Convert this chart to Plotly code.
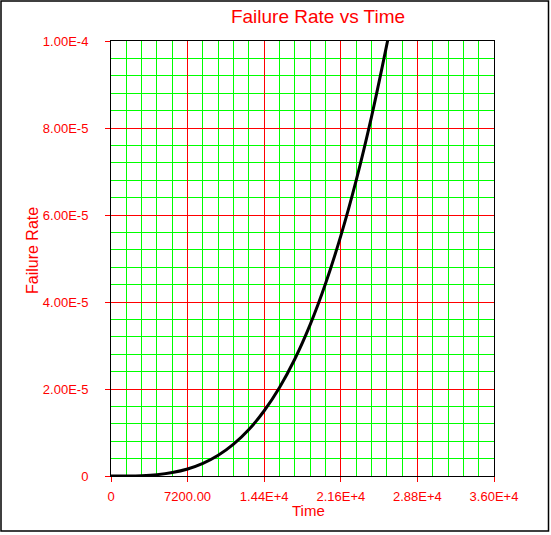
import plotly.graph_objects as go

# Data
time_vals = [0, 1440, 2880, 4320, 5760, 7200, 8640, 10080, 11520, 12960, 14400,
             15840, 17280, 18720, 20160, 21600, 23040, 24480, 25920, 26640]
failure_rate = [0.0, 1.0e-8, 8.5e-8, 3.1e-7, 7.9e-7, 1.61e-6, 2.9e-6, 4.76e-6, 7.31e-6,
                1.067e-5, 1.50e-5, 2.035e-5, 2.69e-5, 3.48e-5, 4.42e-5, 5.52e-5,
                6.79e-5, 8.25e-5, 9.91e-5, 1.08e-4]

x_tickvals = [0, 7200, 14400, 21600, 28800, 36000]
x_ticktext = ["0", "7200.00", "1.44E+4", "2.16E+4", "2.88E+4", "3.60E+4"]
y_tickvals = [0, 2e-5, 4e-5, 6e-5, 8e-5, 1e-4]
y_ticktext = ["0", "2.00E-5", "4.00E-5", "6.00E-5", "8.00E-5", "1.00E-4"]

W, H = 551, 535
L, R, T, B = 111, 57, 41, 59
pw, ph = W - L - R, H - T - B

def px2x(px):
    return (px - L) / pw

def py2y(py):
    return (H - B - py) / ph

RED = "#ff0000"
GREEN = "#00ff00"
FONT = "Liberation Sans, Arial, sans-serif"

fig = go.Figure()
fig.add_trace(go.Scatter(
    x=time_vals, y=failure_rate, mode="lines",
    line=dict(color="black", width=3, shape="spline"),
    showlegend=False, hoverinfo="skip",
))

axis_common = dict(
    showline=True, mirror=True, linecolor="black", linewidth=1,
    showgrid=True, gridcolor=RED, gridwidth=1,
    zeroline=False,
    ticks="outside", ticklen=5, tickcolor=RED, tickwidth=1,
    tickfont=dict(family=FONT, size=13, color=RED),
    tickmode="array",
)

fig.update_xaxes(
    **axis_common,
    range=[0, 36000],
    tickvals=x_tickvals, ticktext=x_ticktext,
    minor=dict(tickmode="linear", tick0=0, dtick=1440, showgrid=True,
               gridcolor=GREEN, gridwidth=1, ticks=""),
    ticklabelstandoff=3,
)
fig.update_yaxes(
    **axis_common,
    range=[0, 1e-4],
    tickvals=y_tickvals, ticktext=y_ticktext,
    minor=dict(tickmode="linear", tick0=0, dtick=4e-6, showgrid=True,
               gridcolor=GREEN, gridwidth=1, ticks=""),
    ticklabelstandoff=14,
)

fig.update_layout(
    width=W, height=H, autosize=False,
    margin=dict(l=L, r=R, t=T, b=B, pad=0),
    paper_bgcolor="white", plot_bgcolor="white",
    title=dict(text="Failure Rate vs Time", x=px2x(318), xref="paper",
               y=1 - 16 / H, yref="container", xanchor="center", yanchor="middle",
               font=dict(family=FONT, size=19, color=RED)),
    annotations=[
        dict(text="Time", xref="paper", yref="paper", x=px2x(308), y=py2y(510),
             showarrow=False, xanchor="center", yanchor="middle",
             font=dict(family=FONT, size=15, color=RED)),
        dict(text="Failure Rate", xref="paper", yref="paper", x=px2x(33), y=py2y(251),
             showarrow=False, xanchor="center", yanchor="middle", textangle=-90,
             font=dict(family=FONT, size=16, color=RED)),
    ],
    shapes=[
        dict(type="rect", xref="paper", yref="paper",
             x0=px2x(1), x1=px2x(548.5), y0=py2y(531), y1=py2y(1),
             line=dict(color="black", width=1.5), fillcolor="rgba(0,0,0,0)",
             layer="above"),
    ],
)

fig.write_html(
    "out.html",
    config={"displayModeBar": False, "staticPlot": True},
    post_script="document.body.style.margin='0';document.body.style.padding='0';",
)
